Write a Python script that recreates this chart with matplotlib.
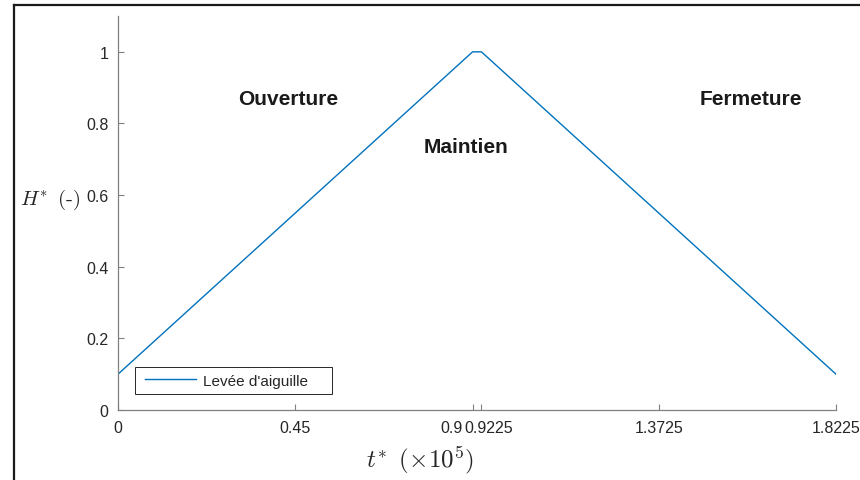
import matplotlib
matplotlib.use('Agg')
import matplotlib.pyplot as plt
import matplotlib.transforms as mtransforms
from matplotlib.lines import Line2D
from matplotlib.legend_handler import HandlerLine2D

plt.rcParams['font.family'] = ['Liberation Sans', 'DejaVu Sans']
plt.rcParams['mathtext.fontset'] = 'cm'

# needle lift profile, t* in units of 1e5
t_star = [0, 0.9, 0.9225, 1.8225]
h_star = [0.1, 1.0, 1.0, 0.1]

x_ticks = [0, 0.45, 0.9, 0.9225, 1.3725, 1.8225]
x_tick_labels = ['0', '0.45', '0.9', '0.9225', '1.3725', '1.8225']
y_ticks = [0, 0.2, 0.4, 0.6, 0.8, 1]
y_tick_labels = ['0', '0.2', '0.4', '0.6', '0.8', '1']

phases = ['Ouverture', 'Maintien', 'Fermeture']
phase_x = [0.4315, 0.883, 1.607]
phase_y = [0.871, 0.737, 0.871]

axis_col = '#262626'

fig = plt.figure(figsize=(8.6, 4.81), dpi=100)
ax = fig.add_axes([0.1372, 0.1455, 0.8349, 0.8191])

ax.plot(t_star, h_star, color='#0072BD', lw=1.0, label="Levée d'aiguille    ")

ax.set_xlim(0, 1.8225)
ax.set_ylim(0, 1.1)
ax.set_xticks(x_ticks)
ax.set_xticklabels(x_tick_labels)
ax.set_yticks(y_ticks)
ax.set_yticklabels(y_tick_labels)

for s in ['top', 'right']:
    ax.spines[s].set_visible(False)
for s in ['left', 'bottom']:
    ax.spines[s].set_color('0.5')
    ax.spines[s].set_linewidth(0.9)
ax.tick_params(direction='in', length=4.5, width=0.8, color='0.5',
               labelsize=11.5, labelcolor=axis_col, pad=7)

# the two close ticks at 0.9 / 0.9225 get their labels pushed apart
xlabs = ax.get_xticklabels()
for lab, dx in [(xlabs[2], -21), (xlabs[3], 7)]:
    off = mtransforms.ScaledTranslation(dx / 100, 0, fig.dpi_scale_trans)
    lab.set_transform(lab.get_transform() + off)

for name, px, py in zip(phases, phase_x, phase_y):
    ax.text(px, py, name, ha='center', va='center', fontsize=15,
            fontweight='bold', color='#1a1a1a')

ax.text(-0.0947, 0.536, r'$H^{*}\ \,(\mathrm{\text{-}})$', transform=ax.transAxes,
        ha='center', va='center', fontsize=15, color=axis_col)
ax.text(0.42, -0.124, r'$t^{*}\ \,(\times 10^{5})$', transform=ax.transAxes,
        ha='center', va='center', fontsize=18, color=axis_col)

leg = ax.legend(loc='lower left', bbox_to_anchor=(0.0237, 0.0406),
                borderaxespad=0, fancybox=False, fontsize=11,
                handlelength=3.6, handletextpad=0.45, borderpad=0.42,
                framealpha=1, handler_map={Line2D: HandlerLine2D(xpad=0.25)})
leg.get_frame().set_edgecolor(axis_col)
leg.get_frame().set_linewidth(0.7)
for txt in leg.get_texts():
    txt.set_color(axis_col)

# outer border along left and top
fig.add_artist(Line2D([0.0157, 0.0157], [0, 0.9875], transform=fig.transFigure,
                      color='#1a1a1a', lw=1.6))
fig.add_artist(Line2D([0.0157, 1.0], [0.9875, 0.9875], transform=fig.transFigure,
                      color='#1a1a1a', lw=1.6))

fig.savefig('out.png', dpi=100)
